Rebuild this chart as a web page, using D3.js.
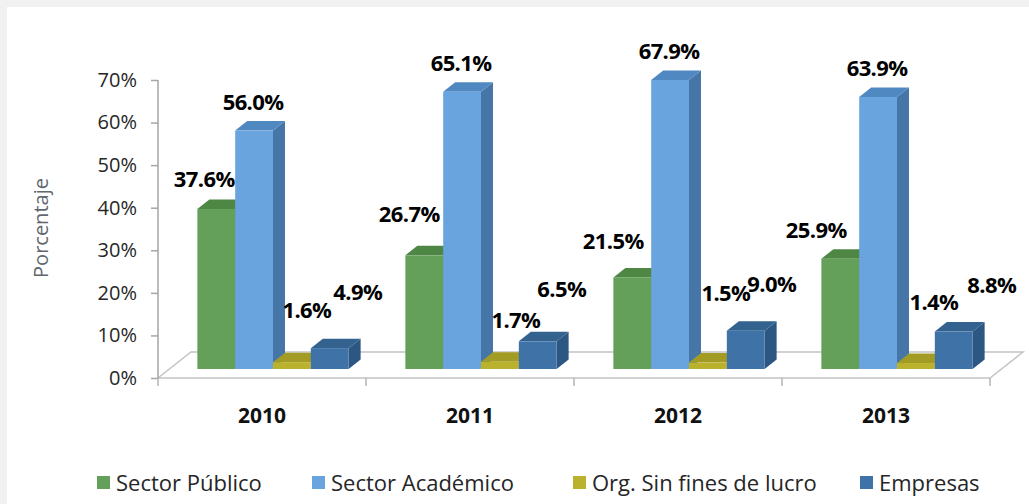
<!DOCTYPE html>
<html>
<head>
<meta charset="utf-8">
<script src="https://cdn.jsdelivr.net/npm/d3@7"></script>
<style>
  html, body { margin: 0; padding: 0; background: #f1f1f1; }
  svg { display: block; font-family: "Open Sans", sans-serif; }
</style>
</head>
<body>
<svg id="chart"></svg>
<script>
// datos del grafico
const years = ["2010", "2011", "2012", "2013"];
const seriesNames = ["Sector Público", "Sector Académico", "Org. Sin fines de lucro", "Empresas"];
const publico = [37.6, 26.7, 21.5, 25.9];
const academico = [56.0, 65.1, 67.9, 63.9];
const sinFines = [1.6, 1.7, 1.5, 1.4];
const empresas = [4.9, 6.5, 9.0, 8.8];
const yTicks = [0, 10, 20, 30, 40, 50, 60, 70];

const seriesValues = [publico, academico, sinFines, empresas];

// colores: frente, tapa, lado
const colors = [
  { front: "#64a05a", top: "#4e8744", side: "#487d3f" },
  { front: "#6aa4de", top: "#5088c2", side: "#4676a8" },
  { front: "#bab22c", top: "#a29b24", side: "#948d20" },
  { front: "#3f72a6", top: "#33628f", side: "#2c5783" }
];

// ajuste manual de las etiquetas (como en el original), por serie y año
const labelDx = [[-12, -15, -19, -24], [-1, -1, -1, -1], [15, 16, 18, 18], [28, 24, 26, 38]];
const labelDy = [[-22, -33, -28, -21], [-21, -21, -21, -21], [-44, -34, -62, -53], [-48, -44, -39, -39]];

const W = 1029, H = 504;
const svg = d3.select("#chart").attr("width", W).attr("height", H);

// fondo
svg.append("rect").attr("x", 7).attr("y", 7).attr("width", W - 7).attr("height", H - 7).attr("fill", "#fff");

// geometria 3D
const floorLeft = 158, floorRight = 990, floorY = 378;
const depth = { dx: 33, dy: -26 };      // profundidad del piso
const barPlane = { dx: 11, dy: -9 };    // plano frontal de las barras
const barDepth = { dx: 12, dy: -9.5 };  // profundidad de cada barra

const x = d3.scaleBand().domain(years).range([floorLeft, floorRight]);
const xs = d3.scaleBand().domain(d3.range(4)).range([0, x.bandwidth()])
  .paddingInner(0).paddingOuter(0.75);
const y = d3.scaleLinear().domain([0, 70]).range([floorY, 80]);

// piso
const floorPts = [
  [floorLeft, floorY], [floorRight, floorY],
  [floorRight + depth.dx, floorY + depth.dy], [floorLeft + depth.dx, floorY + depth.dy]
];
svg.append("polygon")
  .attr("points", floorPts.map(p => p.join(",")).join(" "))
  .attr("fill", "#fff")
  .attr("stroke", "#c4c4c4")
  .attr("stroke-width", 1.5);

// eje Y
const yAxis = svg.append("g")
  .attr("transform", `translate(${floorLeft},0)`)
  .call(d3.axisLeft(y).tickValues(yTicks).tickSize(7).tickPadding(14).tickFormat(d => d + "%"));
yAxis.select(".domain").attr("stroke", "#a6a6a6").attr("stroke-width", 1.5)
  .attr("d", `M0,${y(70)}V${y(0)}`);
yAxis.selectAll(".tick line").attr("stroke", "#a6a6a6").attr("stroke-width", 1.5);
yAxis.selectAll(".tick text").attr("font-size", 20).attr("fill", "#262626")
  .attr("font-family", "Open Sans");

// eje X (marcas bajo el borde frontal)
const xAxis = svg.append("g")
  .attr("transform", `translate(0,${floorY})`)
  .call(d3.axisBottom(x).tickSize(0).tickPadding(30));
xAxis.select(".domain").remove();
xAxis.selectAll(".tick text").attr("font-size", 21).attr("font-weight", "bold")
  .attr("fill", "#111").attr("font-family", "Open Sans");
svg.append("g").selectAll("line")
  .data(years.map(d => x(d)).concat([floorRight]))
  .join("line")
  .attr("x1", d => d).attr("x2", d => d)
  .attr("y1", floorY).attr("y2", floorY + 8)
  .attr("stroke", "#b4b4b4").attr("stroke-width", 1.5);

// barras
const bars = [];
years.forEach((yr, i) => {
  seriesValues.forEach((vals, s) => {
    bars.push({ year: yr, i, s, v: vals[i] });
  });
});

const barG = svg.append("g");
bars.forEach(b => {
  const x0 = x(b.year) + xs(b.s) + barPlane.dx;
  const x1 = x0 + xs.bandwidth();
  const yb = y(0) + barPlane.dy;
  const yt = y(b.v) + barPlane.dy;
  const c = colors[b.s];
  const g = barG.append("g");
  // lado derecho
  g.append("polygon")
    .attr("points", [[x1, yb], [x1 + barDepth.dx, yb + barDepth.dy], [x1 + barDepth.dx, yt + barDepth.dy], [x1, yt]].map(p => p.join(",")).join(" "))
    .attr("fill", c.side);
  // tapa
  g.append("polygon")
    .attr("points", [[x0, yt], [x1, yt], [x1 + barDepth.dx, yt + barDepth.dy], [x0 + barDepth.dx, yt + barDepth.dy]].map(p => p.join(",")).join(" "))
    .attr("fill", c.top);
  // frente
  g.append("rect")
    .attr("x", x0).attr("y", yt)
    .attr("width", xs.bandwidth()).attr("height", yb - yt)
    .attr("fill", c.front);
});

// etiquetas de datos
svg.append("g").selectAll("text")
  .data(bars)
  .join("text")
  .attr("x", b => x(b.year) + xs(b.s) + barPlane.dx + xs.bandwidth() / 2 + labelDx[b.s][b.i])
  .attr("y", b => y(b.v) + barPlane.dy + labelDy[b.s][b.i])
  .attr("text-anchor", "middle")
  .attr("font-size", 22)
  .attr("font-weight", "bold")
  .attr("letter-spacing", -0.6)
  .attr("fill", "#000")
  .text(b => b.v.toFixed(1) + "%");

// titulo eje Y
svg.append("text")
  .attr("transform", "translate(48,228) rotate(-90)")
  .attr("text-anchor", "middle")
  .attr("font-size", 20)
  .attr("fill", "#5f6770")
  .text("Porcentaje");

// leyenda
const legendX = [97, 312, 573, 860];
const legend = svg.append("g").attr("class", "legend")
  .attr("transform", "translate(0,491)");
seriesNames.forEach((name, s) => {
  const g = legend.append("g").attr("transform", `translate(${legendX[s]},0)`);
  g.append("rect").attr("x", 0).attr("y", -15).attr("width", 13).attr("height", 13)
    .attr("fill", colors[s].front);
  g.append("text").attr("x", 19).attr("y", 0)
    .attr("font-size", 22).attr("fill", "#262626").text(name);
});
</script>
</body>
</html>
